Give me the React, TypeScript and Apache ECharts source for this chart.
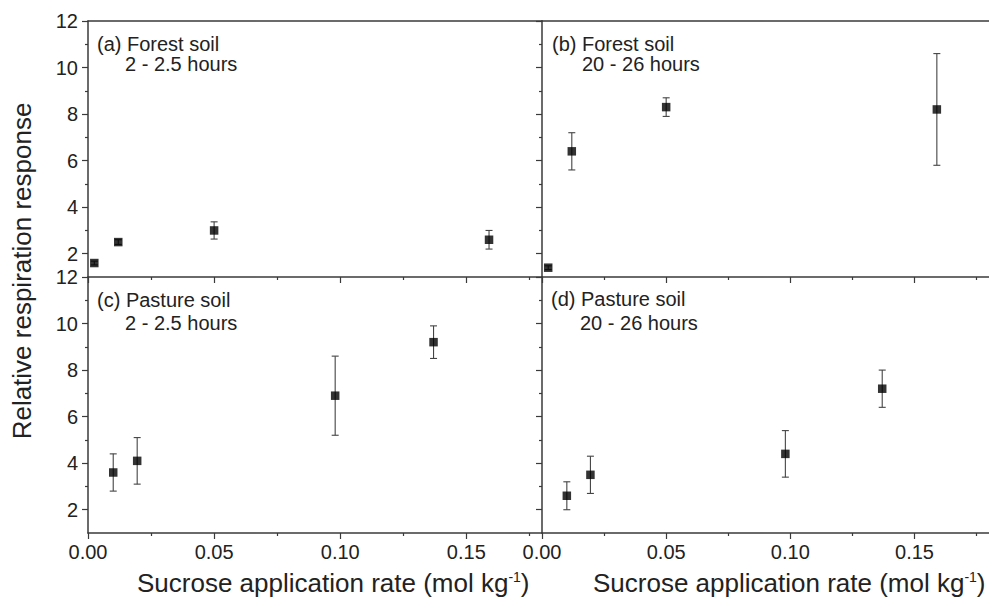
import React, { useEffect, useRef } from "react";
import * as echarts from "echarts";

// ---- data ----
const forestX = [0.0025, 0.012, 0.05, 0.159];
const forest2h = [1.6, 2.5, 3.0, 2.6];
const forest2hErr = [0.08, 0.1, 0.37, 0.4];
const forest20h = [1.4, 6.4, 8.3, 8.2];
const forest20hErr = [0.08, 0.8, 0.4, 2.4];

const pastureX = [0.01, 0.0195, 0.098, 0.137];
const pasture2h = [3.6, 4.1, 6.9, 9.2];
const pasture2hErr = [0.8, 1.0, 1.7, 0.7];
const pasture20h = [2.6, 3.5, 4.4, 7.2];
const pasture20hErr = [0.6, 0.8, 1.0, 0.8];

const xMajorTicks = [0, 0.05, 0.1, 0.15];
const xMinorTicks = [0.025, 0.075, 0.125, 0.175];
const yMajorTicks = [2, 4, 6, 8, 10, 12];
const yMinorTicks = [3, 5, 7, 9, 11];

const panelLabels = [
  ["(a) Forest soil", "2 - 2.5 hours"],
  ["(b) Forest soil", "20 - 26 hours"],
  ["(c) Pasture soil", "2 - 2.5 hours"],
  ["(d) Pasture soil", "20 - 26 hours"],
];
const yTitle = "Relative respiration response";
const xTitle = "Sucrose application rate (mol kg{sup|-1})";

const AXIS = "#3a3a3a";
const TEXT = "#222";
const FONT = "Liberation Sans, Arial, sans-serif";

export default function App() {
  const ref = useRef<HTMLDivElement>(null);
  useEffect(() => {
    document.body.style.margin = "0";
    const chart = echarts.init(ref.current!, null, { renderer: "svg" });

    const grids = [
      { left: 88, top: 21, width: 454, height: 256 },
      { left: 542, top: 21, width: 455, height: 256 },
      { left: 88, top: 277, width: 454, height: 256 },
      { left: 542, top: 277, width: 455, height: 256 },
    ];
    const panels = [
      { x: forestX, y: forest2h, e: forest2hErr },
      { x: forestX, y: forest20h, e: forest20hErr },
      { x: pastureX, y: pasture2h, e: pasture2hErr },
      { x: pastureX, y: pasture20h, e: pasture20hErr },
    ];

    const xAxis: any[] = [];
    const yAxis: any[] = [];
    const series: any[] = [];
    grids.forEach((_, i) => {
      const bottomRow = i >= 2;
      const leftCol = i % 2 === 0;
      xAxis.push({
        type: "value",
        gridIndex: i,
        position: "bottom",
        min: 0,
        max: 0.18,
        interval: 0.05,
        splitLine: { show: false },
        axisLine: { show: true, onZero: false, lineStyle: { color: AXIS, width: 1.5 } },
        axisTick: { show: true, inside: false, length: 6, customValues: xMajorTicks, lineStyle: { color: AXIS, width: 1.2 } },
        axisLabel: {
          show: bottomRow,
          customValues: xMajorTicks,
          margin: 9,
          fontSize: 20,
          fontFamily: FONT,
          color: TEXT,
          formatter: (v: number) => v.toFixed(2),
        },
      });
      xAxis.push({
        type: "value",
        gridIndex: i,
        position: "bottom",
        min: 0,
        max: 0.18,
        interval: 0.05,
        splitLine: { show: false },
        axisLine: { show: false, onZero: false },
        axisTick: { show: true, inside: false, length: 3, customValues: xMinorTicks, lineStyle: { color: AXIS, width: 1.2 } },
        axisLabel: { show: false },
      });
      // top frame line (only visible for the upper panels)
      xAxis.push({
        type: "value",
        gridIndex: i,
        position: "top",
        min: 0,
        max: 0.18,
        interval: 0.05,
        splitLine: { show: false },
        axisLine: { show: !bottomRow, onZero: false, lineStyle: { color: AXIS, width: 1.5 } },
        axisTick: { show: false },
        axisLabel: { show: false },
      });
      yAxis.push({
        type: "value",
        gridIndex: i,
        position: "left",
        min: 1,
        max: 12,
        interval: 1,
        splitLine: { show: false },
        axisLine: { show: true, onZero: false, lineStyle: { color: AXIS, width: 1.5 } },
        axisTick: { show: true, inside: false, length: 6, customValues: yMajorTicks, lineStyle: { color: AXIS, width: 1.2 } },
        axisLabel: {
          show: leftCol,
          customValues: yMajorTicks,
          margin: 10,
          fontSize: 20,
          fontFamily: FONT,
          color: TEXT,
        },
      });
      yAxis.push({
        type: "value",
        gridIndex: i,
        position: "left",
        min: 1,
        max: 12,
        interval: 1,
        splitLine: { show: false },
        axisLine: { show: false, onZero: false },
        axisTick: { show: true, inside: false, length: 3, customValues: yMinorTicks, lineStyle: { color: AXIS, width: 1.2 } },
        axisLabel: { show: false },
      });

      const p = panels[i];
      series.push({
        type: "custom",
        xAxisIndex: 3 * i,
        yAxisIndex: 2 * i,
        z: 2,
        clip: false,
        data: p.x.map((xv, k) => [xv, p.y[k] - p.e[k], p.y[k] + p.e[k]]),
        encode: { x: 0, y: [1, 2] },
        renderItem: (params: any, api: any) => {
          const xv = api.value(0);
          const lo = api.coord([xv, api.value(1)]);
          const hi = api.coord([xv, api.value(2)]);
          const w = 3.5;
          const st = { stroke: "#444", lineWidth: 1.1 };
          return {
            type: "group",
            children: [
              { type: "line", shape: { x1: lo[0], y1: lo[1], x2: hi[0], y2: hi[1] }, style: st },
              { type: "line", shape: { x1: lo[0] - w, y1: lo[1], x2: lo[0] + w, y2: lo[1] }, style: st },
              { type: "line", shape: { x1: hi[0] - w, y1: hi[1], x2: hi[0] + w, y2: hi[1] }, style: st },
            ],
          };
        },
      });
      series.push({
        type: "scatter",
        xAxisIndex: 3 * i,
        yAxisIndex: 2 * i,
        z: 3,
        symbol: "rect",
        symbolSize: 8.5,
        itemStyle: { color: "#000" },
        data: p.x.map((xv, k) => [xv, p.y[k]]),
      });
    });

    const labelPos = [
      { x1: 97, x2: 125, y1: 44, y2: 64 },
      { x1: 552, x2: 582, y1: 44, y2: 64 },
      { x1: 97, x2: 125, y1: 299.5, y2: 323 },
      { x1: 551, x2: 580, y1: 299, y2: 323 },
    ];
    const graphic: any[] = [];
    panelLabels.forEach((lines, i) => {
      const lp = labelPos[i];
      graphic.push({
        type: "text",
        x: lp.x1,
        y: lp.y1,
        style: { text: lines[0], fontSize: 20, fontFamily: FONT, fill: TEXT, verticalAlign: "middle", align: "left" },
      });
      graphic.push({
        type: "text",
        x: lp.x2,
        y: lp.y2,
        style: { text: lines[1], fontSize: 20, fontFamily: FONT, fill: TEXT, verticalAlign: "middle", align: "left" },
      });
    });
    graphic.push({
      type: "text",
      x: 22,
      y: 271,
      rotation: Math.PI / 2,
      style: { text: yTitle, fontSize: 26, fontFamily: FONT, fill: TEXT, align: "center", verticalAlign: "middle" },
    });
    [137, 593].forEach((x) => {
      graphic.push({
        type: "text",
        x,
        y: 583,
        style: {
          text: xTitle,
          fontSize: 26,
          fontFamily: FONT,
          fill: TEXT,
          align: "left",
          verticalAlign: "middle",
          rich: {
            sup: { fontSize: 14, fontFamily: FONT, fill: TEXT, verticalAlign: "top" },
          },
        },
      });
    });

    chart.setOption({
      animation: false,
      backgroundColor: "#fff",
      grid: grids.map((g) => ({ ...g, show: false, containLabel: false })),
      xAxis,
      yAxis,
      series,
      graphic,
    });
    return () => chart.dispose();
  }, []);
  return <div ref={ref} style={{ width: 989, height: 598 }} />;
}
